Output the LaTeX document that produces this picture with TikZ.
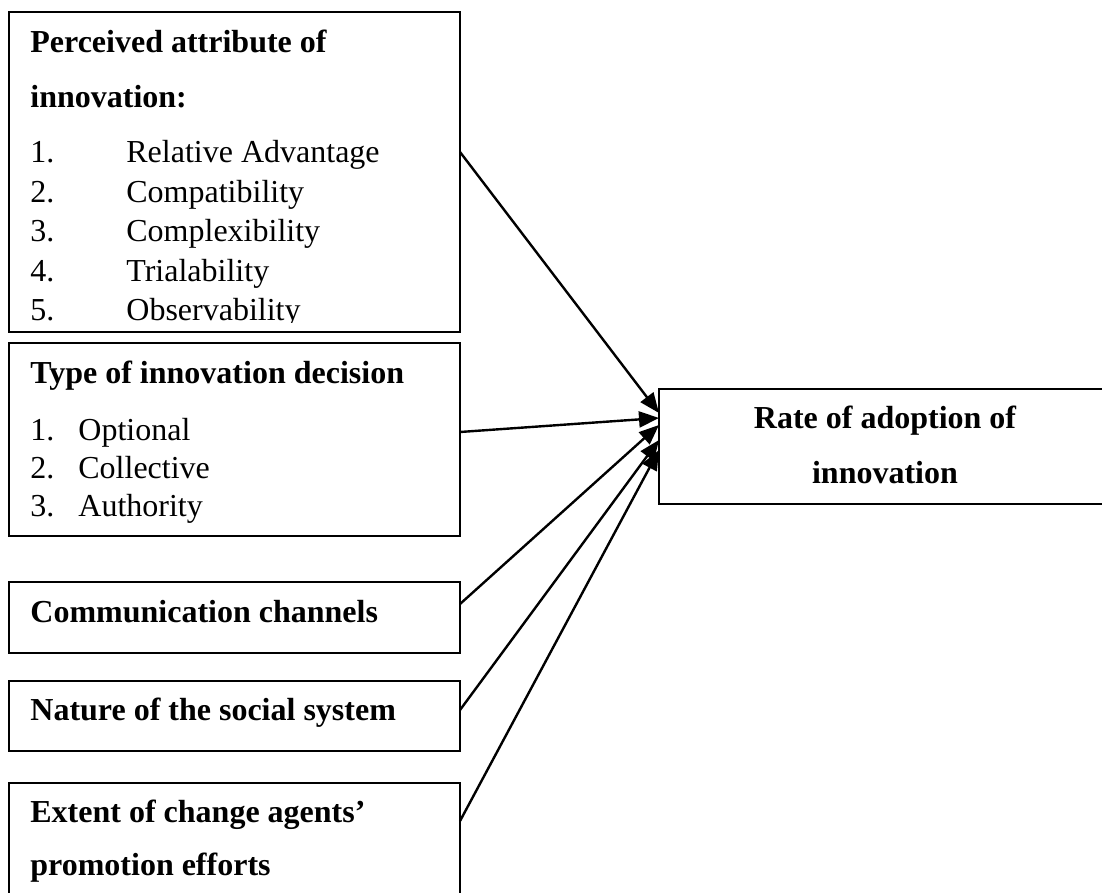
\documentclass[tikz,border=0pt]{standalone}
\usepackage{fontspec}
\setmainfont{Liberation Serif}
\usetikzlibrary{arrows.meta}
\begin{document}
\begin{tikzpicture}[x=0.5pt,y=-0.5pt,
  box/.style={draw, line width=1.2pt, inner sep=0pt, outer sep=0pt, anchor=north west},
  txt/.style={anchor=base west, inner sep=0pt, font=\fontsize{16pt}{19pt}\selectfont},
  hd/.style={txt, font=\fontsize{16pt}{19pt}\selectfont\bfseries},
  ctr/.style={anchor=base, inner sep=0pt, font=\fontsize{16pt}{19pt}\selectfont\bfseries},
  arr/.style={line width=1.2pt, -{Triangle[length=10pt,width=8pt]}}]
\clip (0,0) rectangle (1102,893);

% factor boxes
\node[box, minimum width=225.5pt, minimum height=160pt] (b1) at (9,12) {};
\node[box, minimum width=225.5pt, minimum height=96.5pt] (b2) at (9,343) {};
\node[box, minimum width=225.5pt, minimum height=35.5pt] (b3) at (9,582) {};
\node[box, minimum width=225.5pt, minimum height=35pt] (b4) at (9,681) {};
\node[box, minimum width=225.5pt, minimum height=100pt] (b5) at (9,783) {};
% outcome box
\node[box, minimum width=226pt, minimum height=57.5pt] (rt) at (659,389) {};

% perceived attributes
\begin{scope}
\clip (9,12) rectangle (460,322);
\node[hd] (t1a) at (30,53) {Perceived attribute of};
\node[hd] (t1b) at (30,108) {innovation:};
\node[txt] (n11) at (30,163) {1.};
\node[txt] (i11) at (126,163) {Relative Advantage};
\node[txt] (n12) at (30,203) {2.};
\node[txt] (i12) at (126,203) {Compatibility};
\node[txt] (n13) at (30,242) {3.};
\node[txt] (i13) at (126,242) {Complexibility};
\node[txt] (n14) at (30,281) {4.};
\node[txt] (i14) at (126,281) {Trialability};
\node[txt] (n15) at (30,320) {5.};
\node[txt] (i15) at (126,320) {Observability};
\end{scope}

% decision types
\node[hd] (t2) at (30,383) {Type of innovation decision};
\node[txt] (n21) at (30,440) {1.};
\node[txt] (i21) at (78,440) {Optional};
\node[txt] (n22) at (30,478) {2.};
\node[txt] (i22) at (78,478) {Collective};
\node[txt] (n23) at (30,516) {3.};
\node[txt] (i23) at (78,516) {Authority};

\node[hd] (t3) at (30,622) {Communication channels};
\node[hd] (t4) at (30,720) {Nature of the social system};
\node[hd] (t5a) at (30,822) {Extent of change agents’};
\node[hd] (t5b) at (30,875) {promotion efforts};

\node[ctr] (r1) at (885,428) {Rate of adoption of};
\node[ctr] (r2) at (885,483) {innovation};

% influences on the rate of adoption
\draw[arr] ([yshift=-70pt]b1.north east) -- ([yshift=-12pt]rt.north west);
\draw[arr] ([yshift=-44.5pt]b2.north east) -- ([yshift=-14.5pt]rt.north west);
\draw[arr] ([yshift=-11pt]b3.north east) -- ([yshift=-18pt]rt.north west);
\draw[arr] ([yshift=-14.5pt]b4.north east) -- ([yshift=-25.5pt]rt.north west);
\draw[arr] ([yshift=-19pt]b5.north east) -- ([yshift=-30.5pt]rt.north west);
\end{tikzpicture}
\end{document}
